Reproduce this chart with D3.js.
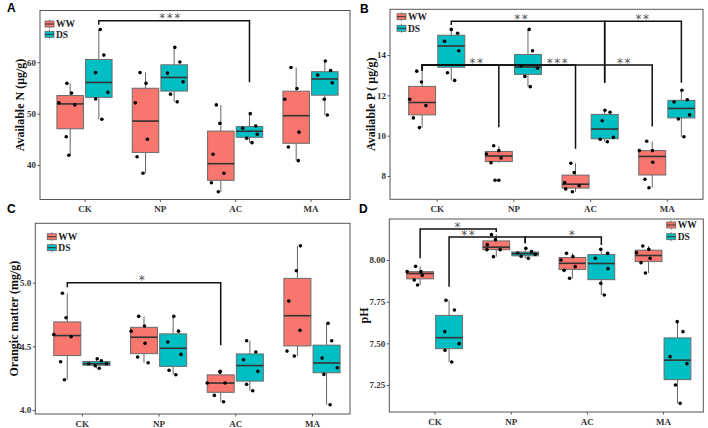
<!DOCTYPE html>
<html><head><meta charset="utf-8">
<script src="https://cdn.jsdelivr.net/npm/d3@7"></script>
<style>body{margin:0;background:#fff}</style>
</head><body><svg id="c" width="708" height="428"></svg>
<script>
// ---------- data ----------
const categories = ["CK", "NP", "AC", "MA"];
const groups = ["WW", "DS"];

// Panel A: Available N (µg/g)
const nWW = [[52.1, 55.9, 54.0, 51.7, 45.5, 41.9], [58.0, 55.9, 52.1, 45.0, 41.6, 38.4], [51.7, 48.1, 42.1, 38.4, 36.55, 34.8], [59.0, 54.9, 52.8, 46.4, 43.5, 40.85]];
const nDS = [[66.4, 61.4, 58.0, 52.85, 54.15, 48.9], [62.9, 60.05, 57.9, 56.2, 53.8, 52.3], [50.0, 47.15, 47.6, 46.0, 45.2, 44.35], [60.25, 57.5, 58.4, 56.0, 52.8, 49.75]];
const nWWJitter = [[-0.85, -0.25, 0.1, 0.35, -0.3, -0.1], [-0.41, 0.04, -0.77, 0.14, -0.64, -0.19], [-0.34, -0.07, -0.59, 0.23, -0.71, -0.19], [-0.39, 0.06, -0.86, 0.21, -0.59, 0.16]];
const nDSJitter = [[0.11, 0.38, -0.24, -0.24, 0.68, 0.23], [0.05, 0.43, -0.5, 0.68, -0.27, 0.23], [0.06, -0.51, 0.47, 0.59, -0.21, 0.19], [0.04, -0.54, 0.44, 0.56, -0.04, 0.19]];
const nTicks = [40, 50, 60];
const nBrackets = [{from: ["CK", "DS"], to: ["AC", "DS"], top: 68.1, endFrom: 67.3, endTo: 56.1, label: "***", at: 1.14}];

// Panel B: Available P (µg/g)
const pWW = [[13.2, 12.66, 11.8, 11.49, 10.88, 10.4], [9.5, 9.26, 9.09, 8.89, 8.66, 7.79], [8.63, 8.17, 7.67, 7.52, 7.36, 7.22], [9.72, 9.26, 9.26, 8.68, 7.84, 7.42]];
const pDS = [[15.27, 15.08, 14.68, 14.21, 13.12, 12.74], [15.27, 14.21, 13.47, 13.34, 12.94, 12.43], [11.26, 11.16, 10.74, 9.92, 9.82, 9.7], [12.25, 11.67, 11.78, 11.03, 10.83, 9.95]];
const pWWJitter = [[-0.4, -0.05, -0.92, 0.28, -0.65, -0.2], [-0.38, 0, -0.92, 0.17, -0.58, -0.28], [-0.35, -0.1, -0.8, 0.27, -0.73, -0.23], [-0.41, -0.95, 0.02, 0.04, -0.54, -0.24]];
const pDSJitter = [[0, 0.47, -0.5, 0.55, -0.28, 0.25], [0.09, 0.34, -0.51, 0.71, -0.23, 0.17], [0.02, 0.4, -0.18, 0.65, -0.33, 0.2], [0.04, -0.54, 0.44, 0.61, -0.22, 0.19]];
const pTicks = [8, 10, 12, 14];
const pBrackets = [
  {from: ["CK", "DS"], to: ["AC", "DS"], top: 15.67, endFrom: 15.49, endTo: 12.63, label: "**", at: 1.11},
  {from: ["AC", "DS"], to: ["MA", "DS"], top: 15.67, endFrom: 12.63, endTo: 12.63, label: "**", at: 2.69},
  {from: ["CK", "WW"], to: ["NP", "WW"], top: 13.5, endFrom: 13.22, endTo: 10.42, label: "**", at: 0.525},
  {from: ["CK", "WW"], to: ["AC", "WW"], top: 13.5, endFrom: 13.22, endTo: 9.35, label: "***", at: 1.58},
  {from: ["CK", "WW"], to: ["MA", "WW"], top: 13.5, endFrom: 13.22, endTo: 10.45, label: "**", at: 2.45}
];

// Panel C: Orangic matter (mg/g)
const oWW = [[4.917, 4.725, 4.594, 4.576, 4.379, 4.238], [4.736, 4.66, 4.62, 4.524, 4.416, 4.372], [4.298, 4.212, 4.212, 4.115, 4.065, 4.305], [5.29, 5.094, 4.856, 4.626, 4.463, 4.424]];
const oDS = [[4.403, 4.387, 4.364, 4.364, 4.348, 4.328], [4.736, 4.62, 4.534, 4.437, 4.312, 4.277], [4.544, 4.456, 4.395, 4.304, 4.202, 4.152], [4.681, 4.544, 4.408, 4.332, 4.28, 4.042]];
const oWWJitter = [[-0.36, -0.09, -1.0, 0.29, -0.49, -0.21], [-0.39, 0.04, -0.95, 0.08, -0.47, 0.31], [-0.06, -1.0, 0.32, -0.47, 0.21, -0.03], [0.22, -0.08, -0.64, 0.19, -0.77, -0.23]];
const oDSJitter = [[0.06, 0.36, -0.57, 0.74, -0.09, 0.21], [0.05, 0.4, -0.4, 0.58, -0.3, 0.2], [-0.24, 0.44, -0.47, 0.59, -0.24, 0.21], [0.11, 0.38, -0.33, 0.79, -0.2, 0.26]];
const oTicks = [4.0, 4.5, 5.0];
const oBrackets = [{from: ["CK", "WW"], to: ["AC", "WW"], top: 5.0, endFrom: 4.964, endTo: 4.51, label: "*", at: 0.79}];

// Panel D: pH
const phWW = [[7.962, 7.93, 7.93, 7.908, 7.88, 7.85], [8.152, 8.122, 8.092, 8.062, 8.062, 8.02], [8.04, 8.02, 8.0, 7.96, 7.938, 7.89], [8.084, 8.064, 8.044, 8.01, 7.984, 7.922]];
const phDS = [[7.758, 7.70, 7.57, 7.498, 7.458, 7.388], [8.07, 8.042, 8.05, 8.034, 8.022, 8.01], [8.064, 8.04, 8.01, 7.948, 7.86, 7.79], [7.63, 7.57, 7.42, 7.378, 7.25, 7.14]];
const phWWJitter = [[-0.34, -0.97, 0.06, 0.16, -0.44, -0.19], [-0.36, -0.06, -0.67, -0.7, 0.29, -0.21], [-0.44, 0.04, -0.85, 0.21, -0.62, -0.21], [-0.43, 0.02, -0.9, 0.12, -0.56, -0.23]];
const phDSJitter = [[-0.23, 0.4, -0.32, 0.75, -0.3, 0.2], [0.05, -0.56, 0.47, 0.75, -0.3, 0.23], [-0.04, 0.47, -0.45, 0.5, -0.04, 0.22], [-0.02, 0.41, -0.55, 0.71, -0.15, 0.2]];
const phTicks = [7.25, 7.5, 7.75, 8.0];
const phBrackets = [
  {from: ["CK", "WW"], to: ["NP", "WW"], top: 8.186, endFrom: 8.01, endTo: 8.168, label: "*", at: 0.31},
  {from: ["CK", "DS"], to: ["NP", "DS"], top: 8.138, endFrom: 7.84, endTo: 8.10, label: "**", at: 0.45},
  {from: ["NP", "DS"], to: ["AC", "DS"], top: 8.138, endFrom: 8.10, endTo: 8.09, label: "*", at: 1.81}
];

// ---------- layout / options ----------
const colors = {WW: "#F8766D", DS: "#00BFC4"};
const serif = "'Liberation Serif','Times New Roman',serif";
const panels = [
  {letter: "A", lx: 7, ly: 12, title: "Available N  (\u03bcg/g)", tx: 23.5,
   data: {WW: nWW, DS: nDS}, jit: {WW: nWWJitter, DS: nDSJitter}, ticks: nTicks, fmt: d3.format("d"), brackets: nBrackets,
   frame: [40, 10.5, 350, 199.5], cx: [84.5, 310.5], yDom: [33.28, 70.09], legend: [49.5, 24, 34.3]},
  {letter: "B", lx: 360, ly: 13, title: "Available P ( \u03bcg/g)", tx: 374.5,
   data: {WW: pWW, DS: pDS}, jit: {WW: pWWJitter, DS: pDSJitter}, ticks: pTicks, fmt: d3.format("d"), brackets: pBrackets,
   frame: [390, 9.3, 703, 199.3], cx: [436.7, 666.8], yDom: [6.845, 16.266], legend: [401.5, 16.7, 28.3]},
  {letter: "C", lx: 7, ly: 213, title: "Orangic matter (mg/g)", tx: 18,
   data: {WW: oWW, DS: oDS}, jit: {WW: oWWJitter, DS: oDSJitter}, ticks: oTicks, fmt: d3.format(".1f"), brackets: oBrackets,
   frame: [35.3, 223.3, 350, 414], cx: [81.85, 312], yDom: [3.969, 5.467], legend: [51.8, 236.7, 247.7]},
  {letter: "D", lx: 359, ly: 213, title: "pH", tx: 368,
   data: {WW: phWW, DS: phDS}, jit: {WW: phWWJitter, DS: phDSJitter}, ticks: phTicks, fmt: d3.format(".2f"), brackets: phBrackets,
   frame: [389.3, 219, 703.3, 412], cx: [434.6, 663], yDom: [7.088, 8.246], legend: [671.2, 225, 236.7]}
];

const svg = d3.select("#c");

function stats(vals) {
  const s = vals.slice().sort(d3.ascending);
  const q1 = d3.quantile(s, 0.25), med = d3.quantile(s, 0.5), q3 = d3.quantile(s, 0.75);
  const iqr = q3 - q1, lo = q1 - 1.5 * iqr, hi = q3 + 1.5 * iqr;
  const inside = s.filter(v => v >= lo && v <= hi);
  return {q1, med, q3, wlo: d3.min(inside), whi: d3.max(inside), out: s.filter(v => v < lo || v > hi)};
}

panels.forEach(p => {
  const [x0, y0, x1, y1] = p.frame;
  const g = svg.append("g");
  const x = d3.scalePoint().domain(categories).range(p.cx);
  const step = x.step();
  const dodge = 0.19 * step, bw = 0.352 * step;
  const y = d3.scaleLinear().domain(p.yDom).range([y1, y0]);
  const xPos = (c, grp) => x(c) + (grp === "WW" ? -dodge : dodge);

  // axes
  const ya = g.append("g").attr("transform", `translate(${x0},0)`)
    .call(d3.axisLeft(y).tickValues(p.ticks).tickFormat(p.fmt).tickSize(2.5).tickPadding(1.5));
  const xa = g.append("g").attr("transform", `translate(0,${y1})`)
    .call(d3.axisBottom(x).tickSize(2.5).tickPadding(4));
  [ya, xa].forEach(a => {
    a.select(".domain").remove();
    a.selectAll(".tick line").attr("stroke", "#444").attr("stroke-width", 0.9);
    a.selectAll(".tick text").attr("fill", "#333").style("font-family", serif)
      .style("font-weight", "bold").style("font-size", "9px");
  });

  // frame
  g.append("rect").attr("x", x0).attr("y", y0).attr("width", x1 - x0).attr("height", y1 - y0)
    .attr("fill", "none").attr("stroke", "#555").attr("stroke-width", 1);

  // boxes
  categories.forEach((c, ci) => {
    groups.forEach(grp => {
      const vals = p.data[grp][ci];
      const jit = p.jit[grp][ci];
      const st = stats(vals);
      const cx = xPos(c, grp);
      const bg = g.append("g");
      bg.append("line").attr("x1", cx).attr("x2", cx).attr("y1", y(st.q3)).attr("y2", y(st.whi))
        .attr("stroke", "#666").attr("stroke-width", 1);
      bg.append("line").attr("x1", cx).attr("x2", cx).attr("y1", y(st.q1)).attr("y2", y(st.wlo))
        .attr("stroke", "#666").attr("stroke-width", 1);
      bg.append("rect").attr("x", cx - bw / 2).attr("y", y(st.q3)).attr("width", bw)
        .attr("height", Math.max(0.5, y(st.q1) - y(st.q3)))
        .attr("fill", colors[grp]).attr("stroke", "#6b6b6b").attr("stroke-width", 1);
      bg.append("line").attr("x1", cx - bw / 2).attr("x2", cx + bw / 2).attr("y1", y(st.med)).attr("y2", y(st.med))
        .attr("stroke", "#333").attr("stroke-width", 1.6);
      bg.selectAll(".out").data(st.out).enter().append("circle")
        .attr("cx", cx).attr("cy", d => y(d)).attr("r", 1.8).attr("fill", "#000");
      bg.selectAll(".pt").data(vals).enter().append("circle")
        .attr("cx", (d, i) => cx + jit[i] * bw / 2).attr("cy", d => y(d)).attr("r", 1.8).attr("fill", "#000");
    });
  });

  // significance brackets
  p.brackets.forEach(b => {
    const xa_ = xPos(b.from[0], b.from[1]), xb = xPos(b.to[0], b.to[1]);
    g.append("path")
      .attr("d", `M${xa_},${y(b.endFrom)}V${y(b.top)}H${xb}V${y(b.endTo)}`)
      .attr("fill", "none").attr("stroke", "#111").attr("stroke-width", 1.5);
    g.append("text").attr("x", x(categories[0]) + b.at * step).attr("y", y(b.top) + 1.5)
      .attr("text-anchor", "middle").attr("fill", "#555")
      .style("font-family", "'DejaVu Sans',sans-serif").style("font-size", "12px")
      .style("letter-spacing", "1.5px").text(b.label);
  });

  // legend
  const [kx, kyW, kyD] = p.legend;
  groups.forEach((grp, gi) => {
    const ky = gi === 0 ? kyW : kyD;
    const lg = g.append("g");
    lg.append("line").attr("x1", kx).attr("x2", kx).attr("y1", ky - 4.5).attr("y2", ky + 4.5)
      .attr("stroke", "#666").attr("stroke-width", 0.8);
    lg.append("rect").attr("x", kx - 4.5).attr("y", ky - 3).attr("width", 9).attr("height", 6)
      .attr("fill", colors[grp]).attr("stroke", "#666").attr("stroke-width", 0.8);
    lg.append("line").attr("x1", kx - 4.5).attr("x2", kx + 4.5).attr("y1", ky).attr("y2", ky)
      .attr("stroke", "#333").attr("stroke-width", 1);
    lg.append("text").attr("x", kx + 6.5).attr("y", ky + 3.2).attr("fill", "#222")
      .style("font-family", serif).style("font-weight", "bold").style("font-size", "9.5px").text(grp);
  });

  // y title
  g.append("text").attr("transform", `translate(${p.tx},${(y0 + y1) / 2}) rotate(-90)`)
    .attr("text-anchor", "middle").attr("fill", "#111")
    .style("font-family", serif).style("font-weight", "bold").style("font-size", "12px").text(p.title);

  // panel letter
  svg.append("text").attr("x", p.lx).attr("y", p.ly).attr("fill", "#000")
    .style("font-family", "'Liberation Sans',Arial,sans-serif").style("font-weight", "bold")
    .style("font-size", "12px").text(p.letter);
});
</script></body></html>
